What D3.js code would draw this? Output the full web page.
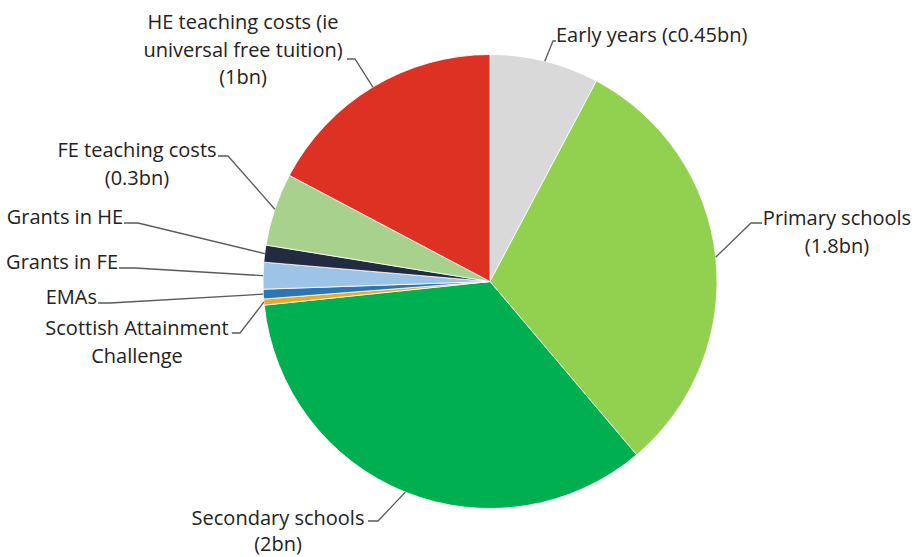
<!DOCTYPE html>
<html>
<head>
<meta charset="utf-8">
<script src="https://cdn.jsdelivr.net/npm/d3@7"></script>
<style>
  html, body { margin: 0; padding: 0; background: #fff; }
  svg { display: block; }
  .lbl { font-family: "Open Sans", Lato, sans-serif; font-size: 20px; fill: #222; }
</style>
</head>
<body>
<svg id="chart" width="917" height="557"></svg>
<script>
// Education spending, £bn
const categories = [
  "Early years", "Primary schools", "Secondary schools",
  "Scottish Attainment Challenge", "EMAs", "Grants in FE",
  "Grants in HE", "FE teaching costs", "HE teaching costs"
];
const values = [0.45, 1.8, 2.0, 0.025, 0.04, 0.11, 0.07, 0.3, 1.0];
const labelLines = [
  ["Early years (c0.45bn)"],
  ["Primary schools", "(1.8bn)"],
  ["Secondary schools", "(2bn)"],
  ["Scottish Attainment", "Challenge"],
  ["EMAs"],
  ["Grants in FE"],
  ["Grants in HE"],
  ["FE teaching costs", "(0.3bn)"],
  ["HE teaching costs (ie", "universal free tuition)", "(1bn)"]
];
const colors = [
  "#d9d9d9", "#92d050", "#00b050", "#f0a81e", "#2e75b6",
  "#9dc3e6", "#222b40", "#a9d18e", "#dd3124"
];

// Label placement: leader elbow, end of the horizontal tail, text anchor
const labelLayout = [
  { elbow: [553, 41],  tail: [556, 41],  x: 556, y: 42,  anchor: "start",  gap: 27.5 },
  { elbow: [751, 223], tail: [762, 223], x: 837, y: 225, anchor: "middle", gap: 27.5 },
  { elbow: [378, 521], tail: [368, 521], x: 278, y: 525, anchor: "middle", gap: 26 },
  { elbow: [240, 333], tail: [232, 333], x: 137, y: 335, anchor: "middle", gap: 27.5 },
  { elbow: [110, 303], tail: [98, 303],  x: 97,  y: 304, anchor: "end",    gap: 27.5 },
  { elbow: [135, 268], tail: [119, 268], x: 118, y: 269, anchor: "end",    gap: 27.5 },
  { elbow: [138, 223], tail: [124, 223], x: 123, y: 224, anchor: "end",    gap: 27.5 },
  { elbow: [228, 156], tail: [218, 156], x: 137, y: 157, anchor: "middle", gap: 27.5 },
  { elbow: [355, 59],  tail: [347, 59],  x: 243, y: 29,  anchor: "middle", gap: 27.5 }
];

const cx = 490, cy = 281.5, radius = 227;

const data = categories.map((c, i) => ({ name: c, value: values[i], i }));

const pie = d3.pie().value(d => d.value).sort(null);
const arc = d3.arc().innerRadius(0).outerRadius(radius);
const edge = d3.arc().innerRadius(radius).outerRadius(radius);

const svg = d3.select("#chart");
const g = svg.append("g").attr("transform", `translate(${cx},${cy})`);

const arcs = pie(data);

g.selectAll("path.slice")
  .data(arcs)
  .join("path")
  .attr("class", "slice")
  .attr("d", arc)
  .attr("fill", d => colors[d.data.i])
  .attr("stroke", "#ffffff")
  .attr("stroke-width", 0.8);

// Leader lines from each slice's outer midpoint to its label
svg.append("g")
  .selectAll("polyline")
  .data(arcs)
  .join("polyline")
  .attr("points", d => {
    const [mx, my] = edge.centroid(d);
    const L = labelLayout[d.data.i];
    return [[cx + mx, cy + my], L.elbow, L.tail].map(p => p.join(",")).join(" ");
  })
  .attr("fill", "none")
  .attr("stroke", "#5a5a5a")
  .attr("stroke-width", 1.3);

const labels = svg.append("g")
  .selectAll("text")
  .data(arcs)
  .join("text")
  .attr("class", "lbl")
  .attr("text-anchor", d => labelLayout[d.data.i].anchor);

labels.selectAll("tspan")
  .data(d => labelLines[d.data.i].map((t, k) => ({ t, k, L: labelLayout[d.data.i] })))
  .join("tspan")
  .attr("x", d => d.L.x)
  .attr("y", d => d.L.y + d.k * d.L.gap)
  .text(d => d.t);
</script>
</body>
</html>
